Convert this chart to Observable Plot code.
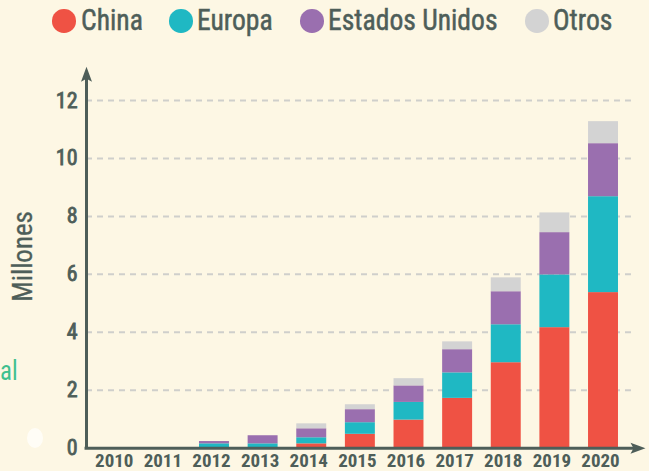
<!DOCTYPE html>
<html>
<head>
<meta charset="utf-8">
<script src="https://cdn.jsdelivr.net/npm/d3@7"></script>
<script src="https://cdn.jsdelivr.net/npm/@observablehq/plot@0.6"></script>
<style>
  body { margin: 0; background: #fdf7e4; }
  #wrap { position: relative; width: 649px; height: 471px; overflow: hidden; background: #fdf7e4; color: #4e5e59; }
  #wrap svg { position: absolute; left: 0; top: 0; }
  .sw { position: absolute; top: 9px; width: 23.5px; height: 23.5px; border-radius: 50%; }
  .lt { position: absolute; top: 4.7px; font-size: 30px; line-height: 30px; white-space: nowrap; transform-origin: 0 0; -webkit-text-stroke: 0.5px #4e5e59; }
  .al { position: absolute; left: 0px; top: 358px; font-size: 27px; line-height: 27px; color: #3fc08f; transform-origin: 0 0; }
  .blob { position: absolute; left: 27px; top: 428px; width: 16px; height: 20px; border-radius: 50%; background: #fffdf6; }
</style>
</head>
<body>
<div id="wrap"></div>
<script>
// ---- data ----
const years = [2010, 2011, 2012, 2013, 2014, 2015, 2016, 2017, 2018, 2019, 2020];
const seriesNames = ["China", "Europa", "Estados Unidos", "Otros"];
const seriesColors = ["#ef5244", "#1fb8c3", "#9a6faf", "#d3d3d3"];
const china  = [0, 0, 0.00, 0.02, 0.15, 0.48, 0.97, 1.72, 2.95, 4.16, 5.37];
const europa = [0, 0, 0.15, 0.13, 0.21, 0.40, 0.61, 0.88, 1.31, 1.82, 3.31];
const eeuu   = [0, 0, 0.08, 0.28, 0.31, 0.45, 0.57, 0.80, 1.14, 1.46, 1.83];
const otros  = [0, 0, 0.00, 0.00, 0.17, 0.17, 0.25, 0.27, 0.48, 0.68, 0.76];
const yTicks = [0, 2, 4, 6, 8, 10, 12];
const yLabel = "Millones";

const seriesValues = [china, europa, eeuu, otros];
const data = years.flatMap((year, i) =>
  seriesNames.map((serie, k) => ({year, serie, value: seriesValues[k][i]})));

// ---- font choice (condensed if installed, otherwise squeezed Liberation Sans) ----
function hasFont(name) {
  const ctx = document.createElement("canvas").getContext("2d");
  const s = "Estados Unidos 2017 Millones";
  ctx.font = "40px monospace";
  const w0 = ctx.measureText(s).width;
  ctx.font = `40px "${name}", monospace`;
  return Math.abs(ctx.measureText(s).width - w0) > 0.5;
}
let fontFamily, squeeze, tickSqueeze;
if (hasFont("Roboto Condensed")) { fontFamily = '"Roboto Condensed", sans-serif'; squeeze = 0.92; tickSqueeze = 1; }
else { fontFamily = '"Liberation Sans", Arial, sans-serif'; squeeze = 0.78; tickSqueeze = 0.85; }
document.getElementById("wrap").style.fontFamily = fontFamily;

const axisColor = "#4e5e59";
const xDomain = [2009.368, 2020.843];
const halfBar = 0.308;

const arrowHead = {
  draw(ctx) {
    ctx.moveTo(0, -1);
    ctx.lineTo(5.5, 14);
    ctx.lineTo(0, 11);
    ctx.lineTo(-5.5, 14);
    ctx.closePath();
  }
};
const arrowTips = [
  {x: xDomain[0], y: 13.13, rot: 0},
  {x: xDomain[1], y: 0, rot: 90}
];

const chart = Plot.plot({
  width: 649,
  height: 471,
  marginLeft: 86,
  marginRight: 5,
  marginTop: 100,
  marginBottom: 23.3,
  style: {background: "transparent", fontFamily, color: axisColor},
  x: {type: "linear", domain: xDomain, axis: null},
  y: {domain: [0, 12], axis: null},
  color: {domain: seriesNames, range: seriesColors},
  marks: [
    Plot.ruleY(yTicks.filter(d => d > 0), {x1: xDomain[0], x2: 2020.575, stroke: "#cfcfcb", strokeWidth: 2, strokeDasharray: "6,5"}),
    Plot.rectY(data, Plot.stackY({
      x1: d => d.year - halfBar,
      x2: d => d.year + halfBar,
      y: "value",
      fill: "serie",
      order: seriesNames
    })),
    Plot.axisY(yTicks, {tickSize: 0, tickPadding: 9, fontSize: 22, fill: axisColor, label: null}),
    Plot.axisX(years, {tickSize: 0, tickPadding: 5, fontSize: 19, fontWeight: "bold", fill: axisColor, tickFormat: d => String(d), label: null, dx: -3}),
    Plot.ruleX([xDomain[0]], {y1: 0, y2: 12.8, stroke: axisColor, strokeWidth: 3}),
    Plot.ruleY([0], {x1: xDomain[0] - 0.03, x2: xDomain[1] - 0.2, stroke: axisColor, strokeWidth: 3}),
    Plot.dot(arrowTips, {x: "x", y: "y", rotate: "rot", symbol: arrowHead, fill: axisColor, stroke: "none", r: 5}),
    Plot.text([yLabel], {frameAnchor: "left", textAnchor: "middle", dx: -63, dy: -18, rotate: -90, fontSize: 27, fill: axisColor, stroke: axisColor, strokeWidth: 0.3})
  ]
});

// slightly heavier y tick labels (the end-anchored tick text group)
chart.querySelectorAll('g[text-anchor="end"] text').forEach(t => {
  t.setAttribute("stroke", axisColor);
  t.setAttribute("stroke-width", "0.8");
});

if (tickSqueeze !== 1) {
  chart.querySelectorAll("text").forEach(t => {
    const tr = t.getAttribute("transform") || "";
    t.setAttribute("transform", tr + ` scale(${tickSqueeze},1)`);
  });
}

const wrap = document.getElementById("wrap");
wrap.appendChild(chart);

// legend
const legendSwatchLeft = [52, 169, 300, 525];
const legendTextLeft = [81, 197, 328, 553];
seriesNames.forEach((name, k) => {
  const sw = document.createElement("div");
  sw.className = "sw";
  sw.style.left = legendSwatchLeft[k] + "px";
  sw.style.background = seriesColors[k];
  wrap.appendChild(sw);
  const t = document.createElement("div");
  t.className = "lt";
  t.style.left = legendTextLeft[k] + "px";
  t.style.transform = `scaleX(${squeeze})`;
  t.textContent = name;
  wrap.appendChild(t);
});
// cropped fragments visible at the left edge of the reference
const al = document.createElement("div");
al.className = "al"; al.textContent = "al";
al.style.transform = `scaleX(${squeeze})`;
wrap.appendChild(al);
const blob = document.createElement("div");
blob.className = "blob";
wrap.appendChild(blob);
</script>
</body>
</html>
